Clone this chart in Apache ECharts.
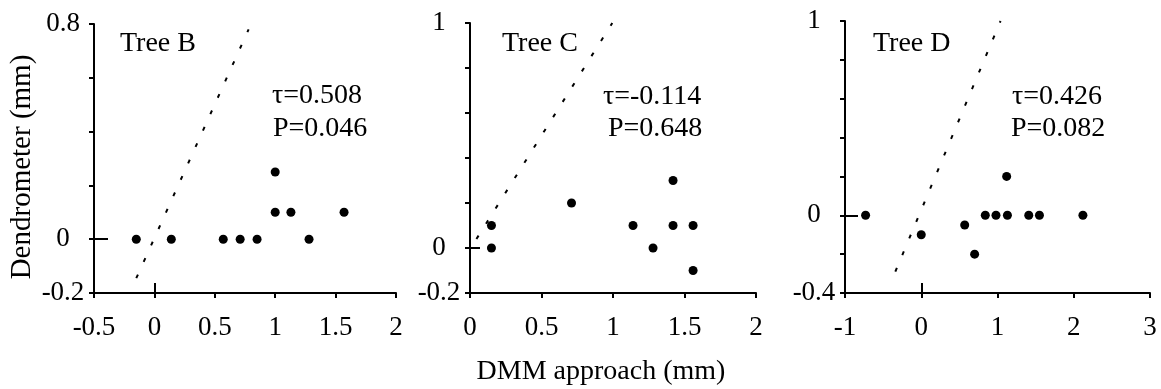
<!DOCTYPE html>
<html>
<head>
<meta charset="utf-8">
<script src="https://cdn.jsdelivr.net/npm/echarts@6/dist/echarts.min.js"></script>
<style>
  html, body { margin: 0; padding: 0; background: #fff; }
  #chart { width: 1161px; height: 389px; }
</style>
</head>
<body>
<div id="chart"></div>
<script>
// panel names and statistics
const treeNames = ["Tree B", "Tree C", "Tree D"];
const tauValues = ["0.508", "-0.114", "0.426"];
const pValues = ["0.046", "0.648", "0.082"];

// DMM approach (x) vs dendrometer (y), mm
const treeB_x = [-0.15, 0.14, 0.57, 0.71, 0.85, 1.0, 1.0, 1.13, 1.28, 1.57];
const treeB_y = [0, 0, 0, 0, 0, 0.25, 0.1, 0.1, 0, 0.1];
const treeC_x = [0.15, 0.15, 0.71, 1.14, 1.28, 1.42, 1.42, 1.56, 1.56];
const treeC_y = [0.1, 0, 0.2, 0.1, 0, 0.3, 0.1, 0.1, -0.1];
const treeD_x = [-0.73, 0, 0.57, 0.7, 0.84, 0.98, 1.13, 1.12, 1.41, 1.55, 2.12];
const treeD_y = [0, -0.1, -0.05, -0.2, 0, 0, 0, 0.2, 0, 0, 0];

// 1:1 reference lines (start, end)
const oneToOneB = [[-0.15, -0.145], [0.78, 0.78]];
const oneToOneC = [[0.045, 0.04], [0.995, 1.0]];
const oneToOneD = [[-0.34, -0.29], [1.04, 1.0]];

// axis ranges and tick labels
const xMin = [-0.5, 0, -1];
const xMax = [2, 2, 3];
const xStep = [0.5, 0.5, 1];
const yMin = [-0.2, -0.2, -0.4];
const yMax = [0.8, 1, 1];
const yTickLabels = [[-0.2, 0, 0.8], [-0.2, 0, 1], [-0.4, 0, 1]];

const FONT = "Liberation Serif";
const pts = [
  treeB_x.map((x, i) => [x, treeB_y[i]]),
  treeC_x.map((x, i) => [x, treeC_y[i]]),
  treeD_x.map((x, i) => [x, treeD_y[i]]),
];
const lines = [oneToOneB, oneToOneC, oneToOneD];

const grids = [
  { left: 94, top: 24, width: 302, height: 269 },
  { left: 470, top: 23, width: 286, height: 270 },
  { left: 845, top: 21, width: 305, height: 272 },
];

const axisLine = { show: true, onZero: false, lineStyle: { color: "#000", width: 2 } };
const labelStyle = { color: "#000", fontFamily: FONT, fontSize: 27 };
const tickStyle = { color: "#000", width: 2 };

const xAxes = [];
const yAxes = [];
const series = [];

for (let i = 0; i < 3; i++) {
  xAxes.push({
    type: "value", gridIndex: i, position: "bottom",
    min: xMin[i], max: xMax[i], interval: xStep[i],
    axisLine: axisLine,
    axisTick: { show: true, length: 5, lineStyle: tickStyle },
    axisLabel: { ...labelStyle, margin: 21 },
    splitLine: { show: false },
  });
  yAxes.push({
    type: "value", gridIndex: i, position: "left",
    min: yMin[i], max: yMax[i], interval: 0.2,
    axisLine: axisLine,
    axisTick: { show: true, length: 5, lineStyle: tickStyle },
    axisLabel: { ...labelStyle, align: "center", margin: 31, customValues: yTickLabels[i] },
    splitLine: { show: false },
  });
}

// extra axes: the short inward ticks at zero
const zeroXPanels = [0, 2];
zeroXPanels.forEach((i) => {
  xAxes.push({
    type: "value", gridIndex: i, position: "bottom",
    min: xMin[i], max: xMax[i], interval: xStep[i],
    axisLine: { show: false, onZero: false },
    axisTick: { show: true, inside: true, length: 10, customValues: [0], lineStyle: tickStyle },
    axisLabel: { show: false },
    splitLine: { show: false },
  });
});
const zeroYLen = [14, 10, 13];
for (let i = 0; i < 3; i++) {
  yAxes.push({
    type: "value", gridIndex: i, position: "left",
    min: yMin[i], max: yMax[i], interval: 0.2,
    axisLine: { show: false, onZero: false },
    axisTick: { show: true, inside: true, length: zeroYLen[i], customValues: [0], lineStyle: tickStyle },
    axisLabel: { show: false },
    splitLine: { show: false },
  });
}

for (let i = 0; i < 3; i++) {
  series.push({
    type: "line", xAxisIndex: i, yAxisIndex: i,
    data: lines[i], symbol: "none", silent: true,
    lineStyle: { color: "#000", width: 2, type: [4, 14] },
    z: 2,
  });
  series.push({
    type: "scatter", xAxisIndex: i, yAxisIndex: i,
    data: pts[i], symbol: "circle", symbolSize: 9,
    itemStyle: { color: "#000", opacity: 1 },
    z: 3,
  });
}

const textPos = [
  { tree: [120, 44], tau: [272, 96], p: [273, 129] },
  { tree: [502, 44], tau: [603, 97], p: [608, 129] },
  { tree: [873, 44], tau: [1012, 97], p: [1011, 129] },
];
const txt = (s, x, y, extra) => ({
  type: "text", x: x, y: y, silent: true,
  style: { text: s, fill: "#000", font: "28px '" + FONT + "'", align: "left", verticalAlign: "middle", ...(extra || {}) },
});
const graphics = [];
for (let i = 0; i < 3; i++) {
  const p = textPos[i];
  graphics.push(txt(treeNames[i], p.tree[0], p.tree[1]));
  graphics.push(txt("τ=" + tauValues[i], p.tau[0], p.tau[1]));
  graphics.push(txt("P=" + pValues[i], p.p[0], p.p[1]));
}
graphics.push({ ...txt("Dendrometer (mm)", 22, 167, { align: "center", font: "29px '" + FONT + "'" }), rotation: Math.PI / 2 });
graphics.push(txt("DMM approach (mm)", 601, 372, { align: "center" }));

const chart = echarts.init(document.getElementById("chart"));
chart.setOption({
  animation: false,
  backgroundColor: "#fff",
  grid: grids.map((g) => ({ ...g, containLabel: false, outerBoundsMode: "none" })),
  xAxis: xAxes,
  yAxis: yAxes,
  series: series,
  graphic: graphics,
});
</script>
</body>
</html>
